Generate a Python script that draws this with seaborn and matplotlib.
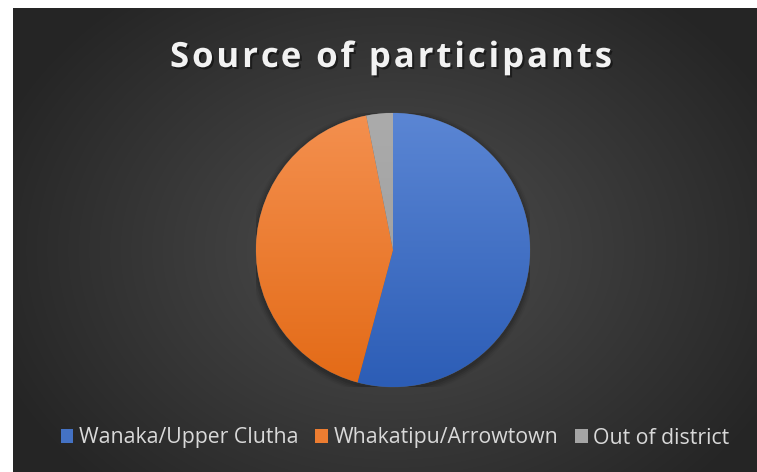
import numpy as np
import matplotlib
matplotlib.use("Agg")
import matplotlib.pyplot as plt
import matplotlib.patheffects as pe
from matplotlib.patches import Patch, Circle
from matplotlib.colors import LinearSegmentedColormap
from matplotlib.font_manager import FontProperties
import seaborn as sns

# ---- data ----
categories = ["Wanaka/Upper Clutha", "Whakatipu/Arrowtown", "Out of district"]
values = [52, 41, 3]
top_colors = ["#5b86d4", "#f4904f", "#ababab"]
bottom_colors = ["#2c5db6", "#e36a16", "#9a9a9a"]
legend_colors = ["#4472c4", "#ed7d31", "#a5a5a5"]
title = "Source of participants"

sns.set_theme(style="white")
plt.rcParams["font.family"] = ["Open Sans", "DejaVu Sans"]

W, H = 757, 472
fig = plt.figure(figsize=(W / 100, H / 100), dpi=100, facecolor="white")

# background radial gradient (dark panel)
bx0, by_top = 13, 8
bg_ax = fig.add_axes([bx0 / W, 0, 1 - bx0 / W, 1 - by_top / H])
bg_ax.set_axis_off()
pw, ph = W - bx0, H - by_top
yy, xx = np.mgrid[0:ph, 0:pw]
cx, cy = 393 - bx0, 250 - by_top
r = np.sqrt(((xx - cx) / 430) ** 2 + ((yy - cy) / 330) ** 2)
r = np.clip(r, 0, 1)
inner = np.array([0x4e, 0x4e, 0x4e]) / 255
outer = np.array([0x25, 0x25, 0x25]) / 255
img = inner[None, None, :] * (1 - r[..., None]) + outer[None, None, :] * r[..., None]
bg_ax.imshow(img, aspect="auto", extent=[0, 1, 0, 1], interpolation="bilinear")
bg_ax.set_xlim(0, 1)
bg_ax.set_ylim(0, 1)

# pie axes
pcx, pcy, rad = 393, 250, 137
ax = fig.add_axes([(pcx - rad) / W, (H - pcy - rad) / H, 2 * rad / W, 2 * rad / H])
ax.set_axis_off()
ax.patch.set_alpha(0)

for i, a in enumerate([0.10, 0.08, 0.06, 0.04]):
    ax.add_patch(Circle((0, -0.015), 1.0 + 0.012 * (i + 1), color="black", alpha=a, lw=0, zorder=0))

wedges, _ = ax.pie(values, startangle=90, counterclock=False, radius=1,
                   colors=legend_colors, wedgeprops=dict(linewidth=0.4, edgecolor="#555555"),
                   frame=False)
for w, tc, bc in zip(wedges, top_colors, bottom_colors):
    cmap = LinearSegmentedColormap.from_list("g", [bc, tc])
    grad = np.linspace(0, 1, 256).reshape(-1, 1)
    im = ax.imshow(grad, cmap=cmap, extent=[-1, 1, -1, 1], origin="lower",
                   aspect="auto", zorder=w.get_zorder() + 0.1)
    im.set_clip_path(w)
ax.set_xlim(-1.0, 1.0)
ax.set_ylim(-1.0, 1.0)

# title with letter spacing
fig.canvas.draw()
renderer = fig.canvas.get_renderer()
prop = FontProperties(family=["Open Sans", "DejaVu Sans"], weight="bold", size=25)


def tw(s):
    w1, _, _ = renderer.get_text_width_height_descent(s + "I", prop, ismath=False)
    w0, _, _ = renderer.get_text_width_height_descent("I", prop, ismath=False)
    return w1 - w0


natural = tw(title)
x_left, x_right, baseline = 170, 612, 67
spacing = ((x_right - x_left) - natural) / (len(title) - 1)
shadow = [pe.withSimplePatchShadow(offset=(1.5, -1.5), shadow_rgbFace="black", alpha=0.45)]
for i, ch in enumerate(title):
    if ch == " ":
        continue
    x = x_left + tw(title[:i]) + i * spacing
    fig.text(x / W, 1 - baseline / H, ch, ha="left", va="baseline", fontproperties=prop,
             color="#f2f2f2", path_effects=shadow)

# legend
handles = [Patch(facecolor=c, edgecolor="none") for c in legend_colors]
leg = fig.legend(handles, categories, loc="center", bbox_to_anchor=(395 / W, 1 - 438 / H),
                 ncol=3, frameon=False, fontsize=15.3, labelcolor="#d9d9d9",
                 handlelength=0.6, handleheight=0.6, handletextpad=0.25, columnspacing=0.8)

fig.savefig("out.png", dpi=100, facecolor="white")
